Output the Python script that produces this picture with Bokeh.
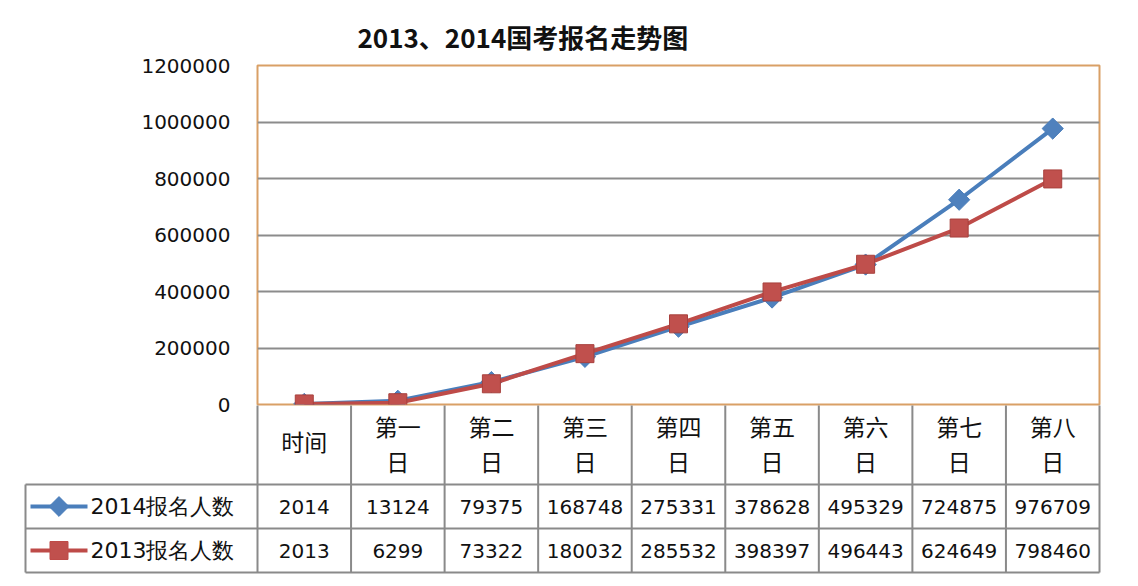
import math
from bokeh.plotting import figure
from bokeh.layouts import column
from bokeh.models import FactorRange, Range1d, NumeralTickFormatter, FixedTicker
from bokeh.embed import file_html
from bokeh.resources import INLINE
from bokeh.core.properties import value

# ---------------- data ----------------
title_text = "2013、2014国考报名走势图"
categories = ["时间", "第一日", "第二日", "第三日", "第四日", "第五日", "第六日", "第七日", "第八日"]
series_names = ["2014报名人数", "2013报名人数"]
series_2014 = [2014, 13124, 79375, 168748, 275331, 378628, 495329, 724875, 976709]
series_2013 = [2013, 6299, 73322, 180032, 285532, 398397, 496443, 624649, 798460]
y_ticks = [0, 200000, 400000, 600000, 800000, 1000000, 1200000]

# ---------------- style / layout ----------------
W = 1130
FRAME_L, FRAME_R = 257, 1099          # plot frame, page px
FRAME_T, FRAME_B = 65, 404
EXTRA_B = 12                          # room for the "0" tick label
CAT_PX = (FRAME_R - FRAME_L) / len(categories)
BLUE_LINE, BLUE_FILL = "#4A7EBB", "#4F81BD"
RED_LINE, RED_FILL = "#BE4B48", "#C0504D"
GRID = "#8C8C8C"
TABLE_LINE = "#8A8A8A"
CJK = "Noto Sans CJK SC"
NUM = "DejaVu Sans"
TXT = "#111111"

p = figure(width=W, height=FRAME_B + EXTRA_B, x_range=FactorRange(*categories),
           y_range=Range1d(0, 1200000), output_backend="svg", toolbar_location=None,
           min_border_left=FRAME_L, min_border_right=W - FRAME_R,
           min_border_top=FRAME_T, min_border_bottom=EXTRA_B, x_axis_location=None,
           frame_align=False)
p.title.text = title_text
p.title.align = "left"
p.title.offset = 100
p.title.standoff = 22
p.title.text_font = CJK
p.title.text_font_size = "26px"
p.title.text_font_style = "bold"
p.title.text_color = TXT
p.outline_line_color = "#D9A066"
p.outline_line_width = 2
p.background_fill_color = "white"
p.border_fill_color = "white"
p.xgrid.visible = False
p.ygrid.grid_line_color = GRID
p.ygrid.grid_line_width = 2
p.yaxis.ticker = FixedTicker(ticks=y_ticks)
p.yaxis.formatter = NumeralTickFormatter(format="0")
p.yaxis.axis_line_color = None
p.yaxis.major_tick_line_color = None
p.yaxis.minor_tick_line_color = None
p.yaxis.major_tick_out = 0
p.yaxis.major_tick_in = 0
p.yaxis.major_label_standoff = 27
p.yaxis.major_label_text_font = NUM
p.yaxis.major_label_text_font_size = "20px"
p.yaxis.major_label_text_color = TXT

p.line(categories, series_2014, line_color=BLUE_LINE, line_width=4)
p.scatter(categories, series_2014, marker="square", angle=math.pi / 4, size=15,
          fill_color=BLUE_FILL, line_color=BLUE_LINE, line_width=1)
p.line(categories, series_2013, line_color=RED_LINE, line_width=4)
p.scatter(categories, series_2013, marker="square", size=18, fill_color=RED_FILL,
          line_color="#A8403D", line_width=1)

# ---------------- data table ----------------
HEADER_H, ROW_H = 79, 44
TABLE_L = 25                        # page px of the table's left border
table_bottom = HEADER_H + 2 * ROW_H
frame_left_b, frame_right_b = TABLE_L - 2, FRAME_R + 2
x_start = (frame_left_b - FRAME_L) / CAT_PX
x_end = len(categories) + (frame_right_b - FRAME_R) / CAT_PX
y_top, y_bot = -1, table_bottom + 3
BOT_BORDER = 2

t = figure(width=W, height=(y_bot - y_top) + BOT_BORDER, x_range=Range1d(x_start, x_end),
           y_range=Range1d(y_bot, y_top), output_backend="svg", toolbar_location=None,
           min_border_left=frame_left_b, min_border_right=W - frame_right_b,
           min_border_top=0, min_border_bottom=BOT_BORDER,
           x_axis_location=None, y_axis_location=None, frame_align=False,
           margin=(-EXTRA_B, 0, 0, 0))
t.grid.visible = False
t.outline_line_color = None
t.background_fill_color = None
t.border_fill_color = None

def px_to_x(px):
    return (px - FRAME_L) / CAT_PX

legend_left = px_to_x(TABLE_L)
n = len(categories)
row_mids = [HEADER_H + ROW_H / 2, HEADER_H + 1.5 * ROW_H]

# vertical lines
vx = list(range(n + 1))
t.segment(x0=vx, y0=[0] * len(vx), x1=vx, y1=[table_bottom] * len(vx),
          line_color=TABLE_LINE, line_width=2)
t.segment(x0=[legend_left], y0=[HEADER_H], x1=[legend_left], y1=[table_bottom],
          line_color=TABLE_LINE, line_width=2)
# horizontal lines
hy = [HEADER_H, HEADER_H + ROW_H, table_bottom]
t.segment(x0=[legend_left] * 3, y0=hy, x1=[n] * 3, y1=hy, line_color=TABLE_LINE, line_width=2)

# header labels
cx = [i + 0.5 for i in range(n)]
single = [(c, x) for c, x in zip(categories, cx) if len(c) <= 2]
double = [(c, x) for c, x in zip(categories, cx) if len(c) > 2]
t.text(x=[x for _, x in single], y=[HEADER_H / 2 - 4] * len(single), text=[c for c, _ in single],
       text_align="center", text_baseline="middle", text_font=value(CJK),
       text_font_size="23px", text_color=TXT)
t.text(x=[x for _, x in double], y=[20] * len(double), text=[c[:-1] for c, _ in double],
       text_align="center", text_baseline="middle", text_font=value(CJK),
       text_font_size="23px", text_color=TXT)
t.text(x=[x for _, x in double], y=[55] * len(double), text=[c[-1] for c, _ in double],
       text_align="center", text_baseline="middle", text_font=value(CJK),
       text_font_size="23px", text_color=TXT)

# values
for vals, ym in zip([series_2014, series_2013], row_mids):
    t.text(x=cx, y=[ym] * n, text=[str(v) for v in vals], text_align="center",
           text_baseline="middle", text_font=value(NUM), text_font_size="20px",
           text_color=TXT)

# legend keys
key_x0, key_x1 = px_to_x(30), px_to_x(87)
key_mid = (key_x0 + key_x1) / 2
text_x = px_to_x(90)
for name, lc, fc, ang, ms, ym in zip(series_names, [BLUE_LINE, RED_LINE], [BLUE_FILL, RED_FILL],
                                     [math.pi / 4, 0], [14, 18], row_mids):
    t.segment(x0=[key_x0], y0=[ym], x1=[key_x1], y1=[ym], line_color=lc, line_width=4)
    t.scatter(x=[key_mid], y=[ym], marker="square", angle=ang, size=ms, fill_color=fc,
              line_color=lc)
    t.text(x=[text_x], y=[ym], text=[name], text_align="left", text_baseline="middle",
           text_font=value(NUM), text_font_size="22px", text_color=TXT)

layout = column(p, t, spacing=0)
open("out.html", "w").write(file_html(layout, INLINE))
